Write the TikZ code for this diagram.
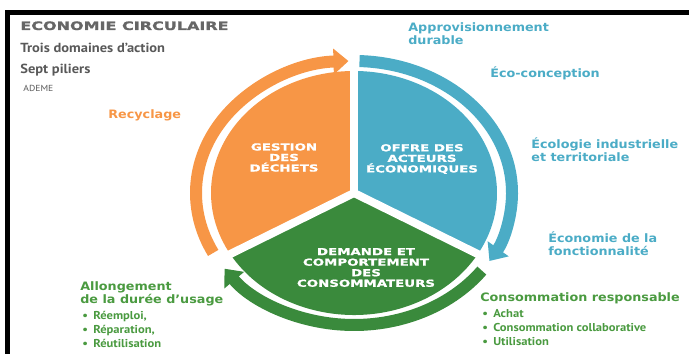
\documentclass[tikz,border=0pt]{standalone}
\usepackage{fontspec}
\setmainfont{PT Sans}[FakeStretch=1.1]
\newfontfamily\headfont{DejaVu Sans}[FakeStretch=1.1]
\newfontfamily\capsfont{DejaVu Sans}[FakeStretch=1.38, FakeBold=1.2]
\usetikzlibrary{arrows.meta}

\definecolor{orangefill}{HTML}{F79646}
\definecolor{bluefill}{HTML}{4BACC6}
\definecolor{greenfill}{HTML}{3A8A3C}
\definecolor{greentext}{HTML}{4A9A40}
\definecolor{titlegray}{HTML}{666666}
\definecolor{textgray}{HTML}{595959}

\begin{document}
\begin{tikzpicture}[
    head/.style={anchor=base west, inner sep=0pt, align=left, font=\headfont\bfseries\fontsize{6.6}{7.9}\selectfont},
    item/.style={anchor=base west, inner sep=0pt, align=left, font=\bfseries\fontsize{6.5}{8}\selectfont, text=greentext},
    sector/.style={align=center, text=white, font=\capsfont\bfseries\fontsize{5.5}{6}\selectfont},
    ring/.style={line width=2.4mm, -{Triangle[length=3mm,width=5mm]}}
]
\useasboundingbox (0,0) rectangle (13.78,7.08);

% Frame
\draw[line width=0.9mm] (0.15,0) -- (0.15,6.83) -- (13.78,6.83);

% Title
\node[anchor=base west, inner sep=0pt, text=titlegray, font=\capsfont\bfseries\fontsize{6.6}{8}\selectfont] (title) at (0.40,6.48) {ECONOMIE CIRCULAIRE};
\node[anchor=base west, inner sep=0pt, text=textgray, font=\bfseries\fontsize{7.5}{9}\selectfont] (domaines) at (0.40,6.02) {Trois domaines d’action};
\node[anchor=base west, inner sep=0pt, text=textgray, font=\bfseries\fontsize{7.5}{9}\selectfont] (piliers) at (0.40,5.60) {Sept piliers};
\node[anchor=base west, inner sep=0pt, text=textgray, font=\fontsize{5}{6}\selectfont] (ademe) at (0.46,5.24) {ADEME};

% Pie sectors
\coordinate (c) at (7.08,3.22);
\foreach \col/\a/\b in {bluefill/-30/90, orangefill/90/210, greenfill/210/330} {
    \fill[\col] (c) -- ++(\a:2.86 and 2.44) arc[start angle=\a, end angle=\b, x radius=2.86, y radius=2.44] -- cycle;
}
\foreach \a in {90,210,330} {
    \draw[white, line width=1.6mm] (c) -- ++(\a:2.95 and 2.52);
}

% Cycle arrows
\foreach \col/\from/\to in {orangefill/207/92, bluefill/88/-31, greenfill/-36/-145} {
    \draw[ring, \col] (c) ++(\from:3.16 and 2.64) arc[start angle=\from, end angle=\to, x radius=3.16, y radius=2.64];
}

% Domains
\node[sector] (gestion) at (5.68,3.93) {GESTION\\DES\\DÉCHETS};
\node[sector] (offre) at (8.44,3.90) {OFFRE DES\\ACTEURS\\ÉCONOMIQUES};
\node[sector] (demande) at (7.32,1.73) {DEMANDE ET\\COMPORTEMENT\\DES\\CONSOMMATEURS};

% Pillars (multi-line nodes sit on their last baseline)
\node[head, text=orangefill] (recyclage) at (2.16,4.70) {Recyclage};
\node[head, text=bluefill] (appro) at (8.16,6.18) {Approvisionnement\\durable};
\node[head, text=bluefill] (ecoconc) at (9.80,5.52) {Éco-conception};
\node[head, text=bluefill] (ecologie) at (10.62,3.84) {Écologie industrielle\\et territoriale};
\node[head, text=bluefill] (fonction) at (10.96,1.96) {Économie de la\\fonctionnalité};
\node[head, text=greentext] (consresp) at (9.60,1.04) {Consommation responsable};
\node[item] (consitems) at (9.64,0.16) {\makebox[2.2mm][l]{•}Achat\\\makebox[2.2mm][l]{•}Consommation collaborative\\\makebox[2.2mm][l]{•}Utilisation};
\node[head, text=greentext] (allong) at (1.60,1.00) {Allongement\\de la durée d’usage};
\node[item] (allitems) at (1.64,0.12) {\makebox[2.2mm][l]{•}Réemploi,\\\makebox[2.2mm][l]{•}Réparation,\\\makebox[2.2mm][l]{•}Réutilisation};

\end{tikzpicture}
\end{document}
